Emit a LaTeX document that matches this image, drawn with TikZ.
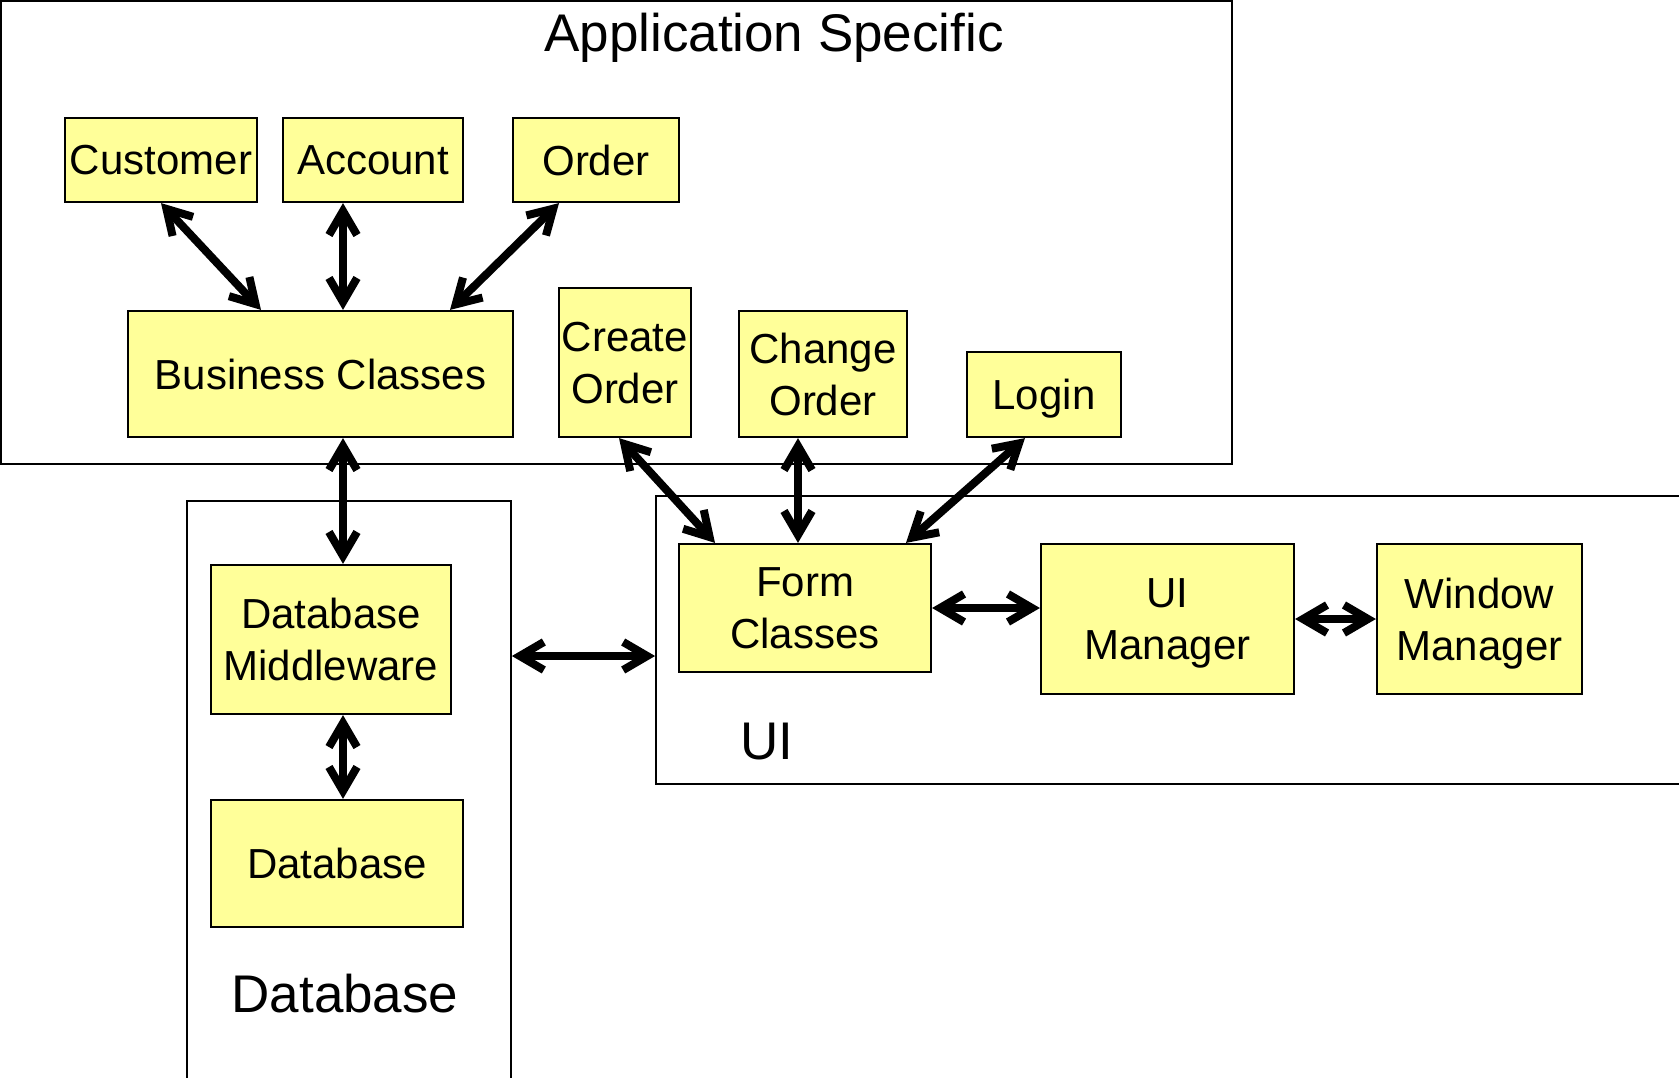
\documentclass[tikz,border=0pt]{standalone}
\usepackage{fontspec}
\setmainfont{Liberation Sans}
\usepackage{tikz}
\usetikzlibrary{arrows.meta}

\definecolor{paleyellow}{RGB}{255,255,153}

\begin{document}
\begin{tikzpicture}[x=1pt, y=-1pt,
        cls/.style={rectangle, draw, line width=2.2pt, fill=paleyellow, inner sep=0pt, align=center, text depth=0pt, font=\fontsize{42}{52}\selectfont},
        area/.style={rectangle, draw, line width=1.8pt, inner sep=0pt},
        areatext/.style={inner sep=0pt, font=\fontsize{53}{60}\selectfont},
        link/.style={{Straight Barb[length=24pt,width=28pt]}-{Straight Barb[length=24pt,width=28pt]}, line width=8pt}]
        \useasboundingbox (0,0) rectangle (1679,1077);

        % Layers
        \node[area, minimum width=1231, minimum height=463] (13) at (616.5,232.5) {};
        \node[area, minimum width=324, minimum height=589] (14) at (349,795.5) {};
        \node[area, minimum width=1044, minimum height=288] (15) at (1178,640) {};
        \node[areatext] (16) at (774,38) {Application Specific};
        \node[areatext] (17) at (345,994) {Database};
        \node[areatext] (18) at (767,742) {UI};

        % Classes
        \node[cls, minimum width=192, minimum height=84] (1) at (161,160) {Customer};
        \node[cls, minimum width=180, minimum height=84] (2) at (373,160) {Account};
        \node[cls, minimum width=166, minimum height=84] (3) at (596,160) {Order};
        \node[cls, minimum width=385, minimum height=126] (4) at (320.5,374) {Business Classes};
        \node[cls, minimum width=132, minimum height=149] (5) at (625,362.5) {Create\\Order};
        \node[cls, minimum width=168, minimum height=126] (6) at (823,374) {Change\\Order};
        \node[cls, minimum width=154, minimum height=85] (7) at (1044,394.5) {Login};
        \node[cls, minimum width=240, minimum height=149] (8) at (331,639.5) {Database\\Middleware};
        \node[cls, minimum width=252, minimum height=127] (9) at (337,863.5) {Database};
        \node[cls, minimum width=252, minimum height=128] (10) at (805,608) {Form\\Classes};
        \node[cls, minimum width=253, minimum height=150] (11) at (1167.5,619) {UI\\Manager};
        \node[cls, minimum width=205, minimum height=150] (12) at (1479.5,619) {Window\\Manager};

        \draw[link] (1.south) -- ([xshift=-59.5pt]4.north);
        \draw[link] ([xshift=-30pt]2.south) -- ([xshift=22.5pt]4.north);
        \draw[link] ([xshift=-37pt]3.south) -- ([xshift=129.5pt]4.north);
        \draw[link] ([xshift=22.5pt]4.south) -- ([xshift=12pt]8.north);
        \draw[link] ([xshift=12pt]8.south) -- ([xshift=6pt]9.north);
        \draw[link] ([xshift=-6pt]5.south) -- ([xshift=-90pt]10.north);
        \draw[link] ([xshift=-25pt]6.south) -- ([xshift=-7pt]10.north);
        \draw[link] ([xshift=-19pt]7.south) -- ([xshift=101pt]10.north);
        \draw[link] (10.east) -- ([yshift=11pt]11.west);
        \draw[link] (11.east) -- (12.west);
        \draw[link] (14.east |- 0,656) -- (15.west |- 0,656);
\end{tikzpicture}
\end{document}
